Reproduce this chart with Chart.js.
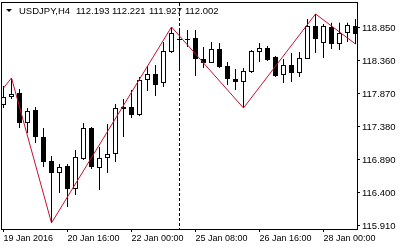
<!DOCTYPE html>
<html>
<head>
<meta charset="utf-8">
<script src="https://cdn.jsdelivr.net/npm/chart.js@4/dist/chart.umd.min.js"></script>
<style>
html,body{margin:0;padding:0;background:#fff;}
#wrap{width:400px;height:250px;}
</style>
</head>
<body>
<div id="wrap"><canvas id="chart" width="400" height="250"></canvas></div>
<script>
// USDJPY H4 candles, 19 Jan - 28 Jan 2016 (one entry per bar)
const opens  = [117.707,117.825,117.885,117.439,117.632,117.232,116.875,116.697,116.801,116.459,
                116.905,117.365,116.771,116.920,116.979,117.677,117.677,117.558,118.078,118.167,
                118.033,118.494,118.687,118.672,118.702,118.390,118.330,118.538,118.286,118.093,
                118.048,118.197,118.494,118.553,118.419,118.152,118.301,118.182,118.390,118.880,
                118.627,118.865,118.612,118.776,118.880];
const highs  = [117.989,118.108,117.944,117.662,117.677,117.365,116.949,116.831,116.831,117.039,
                117.439,117.380,117.083,117.425,117.722,117.796,117.929,118.122,118.286,118.301,
                118.642,118.865,118.820,118.820,118.820,118.568,118.642,118.627,118.345,118.241,
                118.256,118.523,118.627,118.583,118.434,118.390,118.479,118.494,118.984,119.058,
                118.909,118.926,118.926,118.926,118.984];
const lows   = [117.662,117.796,117.365,117.291,117.142,116.786,115.955,116.400,116.192,116.370,
                116.890,116.756,116.445,116.697,116.860,117.232,117.514,117.543,117.915,117.840,
                117.974,118.479,118.226,118.568,118.137,118.256,118.330,118.256,118.004,117.929,
                117.662,118.182,118.345,118.360,118.122,118.033,118.048,118.122,118.390,118.479,
                118.405,118.538,118.523,118.642,118.612];
const closes = [117.825,117.870,117.439,117.618,117.232,116.860,116.697,116.786,116.459,116.935,
                117.365,116.786,116.920,116.979,117.662,117.647,117.558,118.078,118.167,118.004,
                118.508,118.776,118.672,118.687,118.390,118.330,118.538,118.271,118.093,118.048,
                118.212,118.508,118.553,118.375,118.137,118.301,118.182,118.405,118.880,118.687,
                118.880,118.612,118.776,118.895,118.761];

// ZigZag pivots (bar index, price)
const zigzagIndex = [0, 1, 6, 21, 30, 39, 44];
const zigzagPrice = [117.959, 118.108, 115.955, 118.865, 117.662, 119.058, 118.612];

const timeLabels = ['19 Jan 2016','20 Jan 16:00','22 Jan 00:00','25 Jan 08:00','26 Jan 16:00','28 Jan 00:00'];
const timeLabelIndex = [0, 8, 16, 24, 32, 40];
const priceTicks = [115.910, 116.400, 116.890, 117.380, 117.870, 118.360, 118.850];
const separatorIndex = 22;   // week separator
const headerSymbol = 'USDJPY,H4';
const headerValues = ['112.193','112.221','111.927','112.002'];

const wicks  = highs.map((h,i)=>({x:i, y:[lows[i], h]}));
const bodies = opens.map((o,i)=>({x:i, y:[o, closes[i]]}));
const bodyFill = opens.map((o,i)=> closes[i] >= o ? '#ffffff' : '#000000');
const zigzag = zigzagIndex.map((x,i)=>({x:x, y:zigzagPrice[i]}));

const FONT = '"Liberation Sans", Arial, sans-serif';

// frame, week separator and the symbol header
const decor = {
    id:'decor',
    beforeDatasetsDraw(chart){
        const {ctx, chartArea:a, scales:{x}} = chart;
        const px = Math.floor(x.getPixelForValue(separatorIndex)) + 0.5;
        ctx.save();
        ctx.strokeStyle = '#000';
        ctx.lineWidth = 1;
        ctx.setLineDash([3,2]);
        ctx.beginPath(); ctx.moveTo(px, a.top); ctx.lineTo(px, a.bottom); ctx.stroke();
        ctx.restore();
    },
    afterDraw(chart){
        const {ctx, chartArea:a} = chart;
        ctx.save();
        ctx.strokeStyle = '#000';
        ctx.lineWidth = 1;
        ctx.strokeRect(a.left - 0.5, a.top - 0.5, a.right - a.left + 1, a.bottom - a.top + 1);

        ctx.fillStyle = '#000';
        ctx.beginPath(); ctx.moveTo(6,9); ctx.lineTo(12,9); ctx.lineTo(9,12); ctx.closePath(); ctx.fill();
        ctx.font = '9.5px ' + FONT;
        ctx.textBaseline = 'alphabetic';
        ctx.fillText(headerSymbol, 19, 14);
        const vx = [76, 112, 149, 185];
        headerValues.forEach((v,i)=> ctx.fillText(v, vx[i], 14));
        ctx.restore();
    }
};

Chart.defaults.font.family = FONT;
Chart.defaults.color = '#000';

new Chart(document.getElementById('chart').getContext('2d'), {
    type:'bar',
    data:{
        datasets:[
            { type:'line', data:zigzag, borderColor:'#c8102e', borderWidth:1, pointRadius:0, tension:0, order:0 },
            { data:bodies, backgroundColor:bodyFill, borderColor:'#000', borderWidth:1, borderSkipped:false,
              barThickness:5, grouped:false, inflateAmount:0, order:1 },
            { data:wicks, backgroundColor:'#000', borderWidth:0, barThickness:1, grouped:false, inflateAmount:0, order:2 }
        ]
    },
    options:{
        responsive:false,
        animation:false,
        devicePixelRatio:1,
        layout:{ padding:{ left:2, top:3, right:0, bottom:0 } },
        plugins:{ legend:{display:false}, tooltip:{enabled:false}, title:{display:false} },
        scales:{
            x:{
                type:'linear', min:-0.1875, max:44.1875, offset:false,
                afterBuildTicks: s => { s.ticks = timeLabelIndex.map(v=>({value:v})); },
                afterFit: s => { s.height = 21; s.paddingLeft = 0; s.paddingRight = 0; },
                grid:{ offset:false, drawOnChartArea:false, drawTicks:true, tickLength:3, color:'#000' },
                border:{ display:false },
                ticks:{ autoSkip:false, maxRotation:0, align:'start', padding:1, font:{size:9},
                        callback: v => timeLabels[timeLabelIndex.indexOf(v)] }
            },
            y:{
                position:'right', min:115.865, max:119.221,
                afterBuildTicks: s => { s.ticks = priceTicks.map(v=>({value:v})); },
                afterFit: s => { s.width = 43; s.paddingTop = 0; s.paddingBottom = 0; },
                grid:{ drawOnChartArea:false, drawTicks:true, tickLength:3, color:'#000' },
                border:{ display:false },
                ticks:{ padding:2, font:{size:9.5}, callback: v => v.toFixed(3) }
            }
        }
    },
    plugins:[decor]
});
</script>
</body>
</html>
